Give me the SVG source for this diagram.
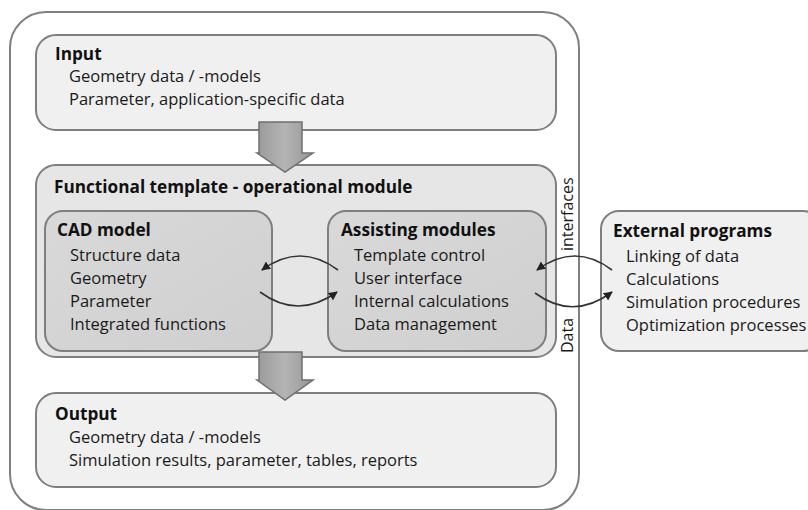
<svg xmlns="http://www.w3.org/2000/svg" width="808" height="510" viewBox="0 0 808 510">
<style>
.box{stroke:#7f7f7f;stroke-width:2}
.t{font-family:"Open Sans","Liberation Sans",sans-serif;font-weight:bold;font-size:17.2px;fill:#111}
.i{font-family:"Open Sans","Liberation Sans",sans-serif;font-size:16.5px;fill:#1a1a1a}
.v{font-family:"Open Sans","Liberation Sans",sans-serif;font-size:16px;fill:#1a1a1a}
.arc{fill:none;stroke:#333;stroke-width:1.6}
.big{fill:url(#ga);stroke:#6f6f6f;stroke-width:1.5}
</style>
<defs>
<linearGradient id="ga" x1="0" y1="0" x2="1" y2="0">
<stop offset="0" stop-color="#9a9a9a"/><stop offset="0.5" stop-color="#b4b4b4"/><stop offset="1" stop-color="#969696"/>
</linearGradient>
<linearGradient id="gi" x1="0" y1="0" x2="1" y2="1">
<stop offset="0" stop-color="#d9d9d9"/><stop offset="1" stop-color="#cfcfcf"/>
</linearGradient>
<marker id="ah" viewBox="0 0 10 10" refX="9" refY="5" markerWidth="9" markerHeight="9" markerUnits="userSpaceOnUse" orient="auto">
<path d="M0,0 L10,5 L0,10 z" fill="#222"/>
</marker>
</defs>
<g id="outer"><rect x="10" y="12" width="569" height="498" rx="36" fill="#fff" stroke="#808080" stroke-width="2"/></g>
<g id="input">
<rect class="box" x="36" y="35" width="520" height="95" rx="20" fill="#f0f0f0"/>
<text class="t" x="55" y="60">Input</text>
<text class="i" x="69" y="82">Geometry data / -models</text>
<text class="i" x="69" y="105">Parameter, application-specific data</text>
</g>
<g id="functional">
<rect class="box" x="36" y="165" width="520" height="192" rx="20" fill="#e6e6e6"/>
<text class="t" x="54" y="193">Functional template - operational module</text>
</g>
<g id="cad">
<rect class="box" x="45" y="211" width="227" height="140" rx="18" fill="url(#gi)"/>
<text class="t" x="57" y="236">CAD model</text>
<text class="i" x="70" y="261">Structure data</text>
<text class="i" x="70" y="284">Geometry</text>
<text class="i" x="70" y="307">Parameter</text>
<text class="i" x="70" y="330">Integrated functions</text>
</g>
<g id="assisting">
<rect class="box" x="328" y="211" width="218" height="140" rx="18" fill="url(#gi)"/>
<text class="t" x="341" y="236">Assisting modules</text>
<text class="i" x="354" y="261">Template control</text>
<text class="i" x="354" y="284">User interface</text>
<text class="i" x="354" y="307">Internal calculations</text>
<text class="i" x="354" y="330">Data management</text>
</g>
<g id="external">
<rect class="box" x="601" y="211" width="220" height="140" rx="18" fill="#f0f0f0"/>
<text class="t" x="613" y="237">External programs</text>
<text class="i" x="626" y="262">Linking of data</text>
<text class="i" x="626" y="285">Calculations</text>
<text class="i" x="626" y="308">Simulation procedures</text>
<text class="i" x="626" y="331">Optimization processes</text>
</g>
<g id="output">
<rect class="box" x="36" y="393" width="520" height="94" rx="20" fill="#f0f0f0"/>
<text class="t" x="55" y="420">Output</text>
<text class="i" x="69" y="443">Geometry data / -models</text>
<text class="i" x="69" y="466">Simulation results, parameter, tables, reports</text>
</g>
<g id="labels">
<text class="v" transform="translate(573,251) rotate(-90)">interfaces</text>
<text class="v" transform="translate(573,353) rotate(-90)">Data</text>
</g>
<g id="connectors">
<path class="big" d="M259,122 H302 V153 H313 L285,172 L257,153 H259 Z"/>
<path class="big" d="M259,352 H302 V380 H313 L285,400 L257,380 H259 Z"/>
<path class="arc" d="M338,270 Q300,242 262,270" marker-end="url(#ah)"/>
<path class="arc" d="M260,292 Q298,320 337,292" marker-end="url(#ah)"/>
<path class="arc" d="M612,270 Q575,242 537,270" marker-end="url(#ah)"/>
<path class="arc" d="M535,293 Q573,321 612,292" marker-end="url(#ah)"/>
</g>
</svg>
